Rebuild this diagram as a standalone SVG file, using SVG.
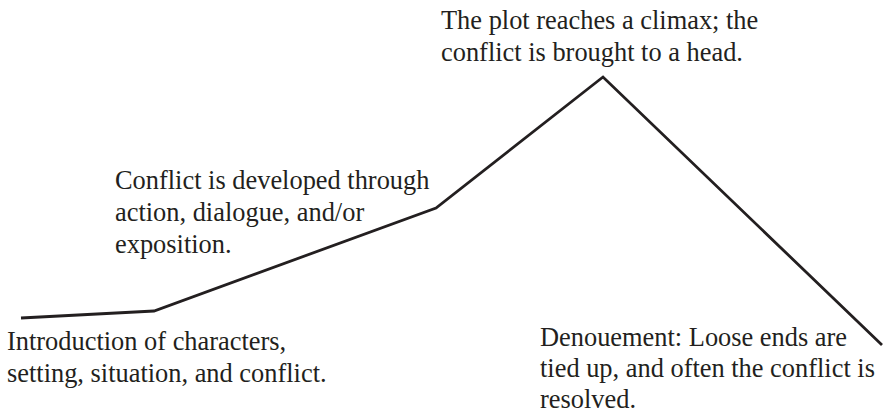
<svg xmlns="http://www.w3.org/2000/svg" width="884" height="414" viewBox="0 0 884 414">
<style>
.lbl{font-family:"Liberation Serif","Times New Roman",serif;font-size:26.4px;fill:#231f20}
.plot{fill:none;stroke:#231f20;stroke-width:2.8;stroke-linejoin:miter}
</style>
<rect width="884" height="414" fill="#ffffff"/>
<g id="connectors">
<polyline class="plot" points="21,318 154,311 436,208 603,77 882,345"/>
</g>
<g id="exposition">
<text class="lbl" x="7" y="350">Introduction of characters,</text>
<text class="lbl" x="7" y="382">setting, situation, and conflict.</text>
</g>
<g id="rising-action">
<text class="lbl" x="115" y="189">Conflict is developed through</text>
<text class="lbl" x="115" y="221">action, dialogue, and/or</text>
<text class="lbl" x="115" y="253">exposition.</text>
</g>
<g id="climax">
<text class="lbl" x="441" y="29">The plot reaches a climax; the</text>
<text class="lbl" x="441" y="61">conflict is brought to a head.</text>
</g>
<g id="denouement">
<text class="lbl" x="540" y="346">Denouement: Loose ends are</text>
<text class="lbl" x="540" y="377">tied up, and often the conflict is</text>
<text class="lbl" x="540" y="407.5">resolved.</text>
</g>
</svg>
